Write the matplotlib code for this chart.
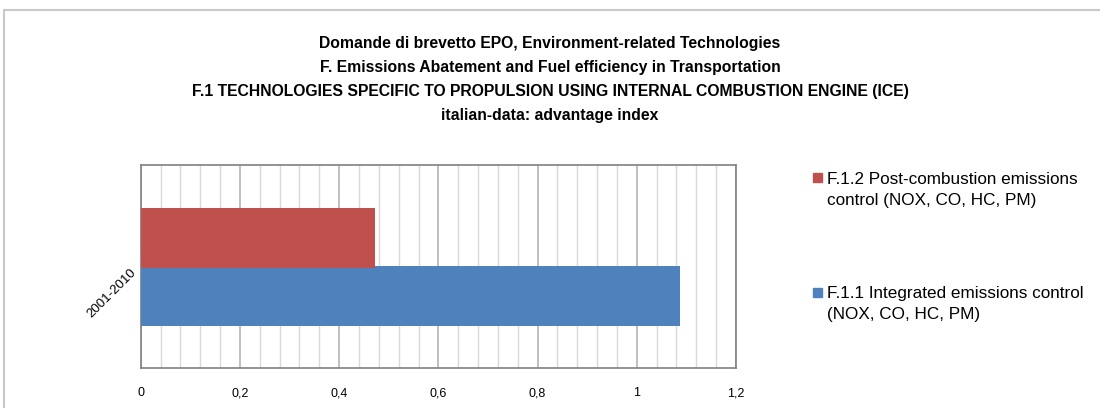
import matplotlib
matplotlib.use('Agg')
import matplotlib.pyplot as plt
from matplotlib.patches import Rectangle
from matplotlib.ticker import MultipleLocator, FuncFormatter

# dati
categorie = ['2001-2010']
serie_nomi = ['F.1.1 Integrated emissions control\n(NOX, CO, HC, PM)',
              'F.1.2 Post-combustion emissions\ncontrol (NOX, CO, HC, PM)']
valori_f11 = [1.087]
valori_f12 = [0.473]
colori = ['#4f81bd', '#c0504d']

titolo = ('Domande di brevetto EPO, Environment-related Technologies\n'
          'F. Emissions Abatement and Fuel efficiency in Transportation\n'
          'F.1 TECHNOLOGIES SPECIFIC TO PROPULSION USING INTERNAL COMBUSTION ENGINE (ICE)\n'
          'italian-data: advantage index')

plt.rcParams['font.family'] = ['Liberation Sans', 'DejaVu Sans']

fig = plt.figure(figsize=(11, 4.08), dpi=100)
fig.patches.append(Rectangle((0.004, -0.1), 1.2, 1.075, transform=fig.transFigure,
                             fill=False, edgecolor='#c8c8c8', linewidth=1.5))

ax = fig.add_axes([0.128, 0.098, 0.541, 0.498])

h = 0.295
pos = list(range(len(categorie)))
ax.barh([p - 0.147 for p in pos], valori_f11, height=h, color=colori[0], zorder=3)
ax.barh([p + 0.14 for p in pos], valori_f12, height=h, color=colori[1], zorder=3)

ax.set_xlim(0, 1.2)
ax.set_ylim(-0.5, 0.5)
ax.xaxis.set_major_locator(MultipleLocator(0.2))
ax.xaxis.set_minor_locator(MultipleLocator(0.04))
ax.xaxis.set_major_formatter(FuncFormatter(lambda v, p: ('%g' % round(v, 2)).replace('.', ',')))
ax.grid(axis='x', which='major', color='#b4b4b4', linewidth=1.2, zorder=0)
ax.grid(axis='x', which='minor', color='#d9d9d9', linewidth=1.0, zorder=0)
ax.tick_params(axis='x', which='both', length=0, labelsize=9, pad=14)
ax.set_yticks(pos)
ax.set_yticklabels(categorie, rotation=45, fontsize=9.5, ha='right', va='top', rotation_mode='anchor')
ax.tick_params(axis='y', length=0, pad=8)
for s in ax.spines.values():
    s.set_color('#808080')
    s.set_linewidth(1.2)

fig.text(0.5, 0.912, titolo, ha='center', va='top', fontsize=11.3, fontweight='bold',
         linespacing=1.75)

# legenda disegnata a mano (quadratino allineato alla prima riga), F.1.2 in alto
leg_y = [0.716, 0.436]  # centro della prima riga, dall'alto della figura
for nome, col, yy in zip(serie_nomi, colori, leg_y):
    fig.patches.append(Rectangle((0.739, 1 - yy - 0.011), 0.0082, 0.022,
                                 transform=fig.transFigure, color=col))
    fig.text(0.752, 1 - yy + 0.014, nome, ha='left', va='top', fontsize=12.3,
             linespacing=1.45)

fig.savefig('out.png', dpi=100)
